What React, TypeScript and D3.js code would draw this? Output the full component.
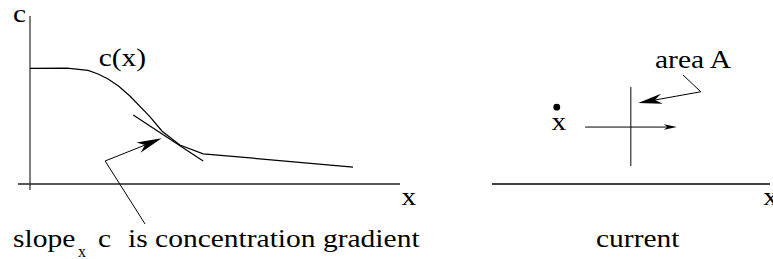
import React from "react";
import * as d3 from "d3";

// concentration profile c(x), in chart units
const curveX = [0, 1.0, 1.57, 1.84, 2.11, 2.4, 2.7, 3.24, 3.57, 4.05, 4.68, 5.95, 8.73];
const curveC = [6.88, 6.9, 6.76, 6.55, 6.25, 5.82, 5.24, 4.01, 3.14, 2.32, 1.79, 1.55, 1.01];
// tangent line at the gradient point
const tangentX = [2.79, 4.68];
const tangentC = [4.11, 1.37];
// pointer from caption to tangent point
const pointerX = [3.11, 2.03, 3.56];
const pointerC = [-2.38, 1.37, 2.72];

// right panel ("current")
const dotPos = { x: 2.33, c: 4.57 };
const areaLineX = [4.99, 4.99];
const areaLineC = [5.77, 1.07];
const flowX = [3.35, 6.65];
const flowC = [3.39, 3.39];
const areaPointerX = [6.87, 7.51, 5.26];
const areaPointerC = [6.49, 5.49, 4.82];

const W = 773;
const H = 259;
const FONT = "Liberation Serif, Tinos, DejaVu Serif, serif";
const SX = 1.135;

const xL = d3.scaleLinear().domain([0, 10]).range([30, 400]);
const y = d3.scaleLinear().domain([0, 10]).range([184, 16]);
const xR = d3.scaleLinear().domain([0, 10]).range([492, 770]);

function arrowHead(
  from: [number, number],
  tip: [number, number],
  len: number,
  half: number,
  notch: number
) {
  const dx = tip[0] - from[0];
  const dy = tip[1] - from[1];
  const d = Math.hypot(dx, dy);
  const ux = dx / d;
  const uy = dy / d;
  const px = -uy;
  const py = ux;
  const bx = tip[0] - ux * len;
  const by = tip[1] - uy * len;
  const nx = tip[0] - ux * (len - notch);
  const ny = tip[1] - uy * (len - notch);
  return `M${tip[0]},${tip[1]}L${bx + px * half},${by + py * half}L${nx},${ny}L${bx - px * half},${by - py * half}Z`;
}

function T({ x, yy, children, size = 26, sx = SX }: any) {
  return (
    <text
      transform={`translate(${x},${yy}) scale(${sx},1)`}
      style={{ fontFamily: FONT, fontSize: size }}
      fill="#000"
    >
      {children}
    </text>
  );
}

export default function App() {
  const line = d3
    .line<[number, number]>()
    .x((d) => d[0])
    .y((d) => d[1]);

  const curvePts = curveX.map((v, i) => [xL(v), y(curveC[i])] as [number, number]);
  const tanPts = tangentX.map((v, i) => [xL(v), y(tangentC[i])] as [number, number]);
  const ptrPts = pointerX.map((v, i) => [xL(v), y(pointerC[i])] as [number, number]);

  const areaPts = areaLineX.map((v, i) => [xR(v), y(areaLineC[i])] as [number, number]);
  const flowPts = flowX.map((v, i) => [xR(v), y(flowC[i])] as [number, number]);
  const aPtrPts = areaPointerX.map((v, i) => [xR(v), y(areaPointerC[i])] as [number, number]);

  const ptrHeadFrom = ptrPts[1];
  const ptrTip = ptrPts[2];
  const aFrom = aPtrPts[1];
  const aTip = aPtrPts[2];

  return (
    <svg
      width={W}
      height={H}
      style={{ position: "absolute", left: 0, top: 0, background: "#fff" }}
    >
      {/* left panel axes */}
      <line x1={xL(0)} x2={xL(0)} y1={y(10)} y2={190} stroke="#555" strokeWidth={1.5} />
      <line x1={18} x2={xL(10)} y1={y(0)} y2={y(0)} stroke="#222" strokeWidth={1.3} />
      {/* curve */}
      <path d={line(curvePts) || ""} fill="none" stroke="#000" strokeWidth={1.2} />
      <path d={line(tanPts) || ""} fill="none" stroke="#000" strokeWidth={1.2} />
      {/* pointer */}
      <path
        d={line(ptrPts.slice(0, 2).concat([[ptrTip[0] - 6, ptrTip[1] + 2.5]])) || ""}
        fill="none"
        stroke="#000"
        strokeWidth={1}
      />
      <path d={arrowHead(ptrHeadFrom, ptrTip, 25, 5.5, 7)} fill="#000" />

      <T x={13} yy={21.7}>c</T>
      <T x={98.7} yy={65.5}>c(x)</T>
      <T x={401.5} yy={205}>x</T>
      <T x={13} yy={246.5}>slope</T>
      <T x={78} yy={257} size={16} sx={1.0}>x</T>
      <T x={98} yy={246.5}>c</T>
      <T x={128} yy={246.5}>is concentration gradient</T>

      {/* right panel */}
      <line x1={xR(0)} x2={xR(10)} y1={y(0)} y2={y(0)} stroke="#000" strokeWidth={1.3} />
      <path d={line(areaPts) || ""} fill="none" stroke="#555" strokeWidth={1.5} />
      <path
        d={line([flowPts[0], [flowPts[1][0] - 8, flowPts[1][1]]]) || ""}
        fill="none"
        stroke="#000"
        strokeWidth={1}
      />
      <path d={arrowHead(flowPts[0], flowPts[1], 13, 2.8, 3.5)} fill="#000" />
      <circle cx={xR(dotPos.x)} cy={y(dotPos.c)} r={3.4} fill="#000" />
      <T x={551.5} yy={130}>x</T>
      <path
        d={line([aPtrPts[0], aPtrPts[1], [aTip[0] + 6, aTip[1] - 1.1]]) || ""}
        fill="none"
        stroke="#000"
        strokeWidth={1}
      />
      <path d={arrowHead(aFrom, aTip, 24, 5, 7)} fill="#000" />
      <T x={655} yy={68.3}>area A</T>
      <T x={596} yy={247.3}>current</T>
      <T x={763.3} yy={205}>x</T>
    </svg>
  );
}
